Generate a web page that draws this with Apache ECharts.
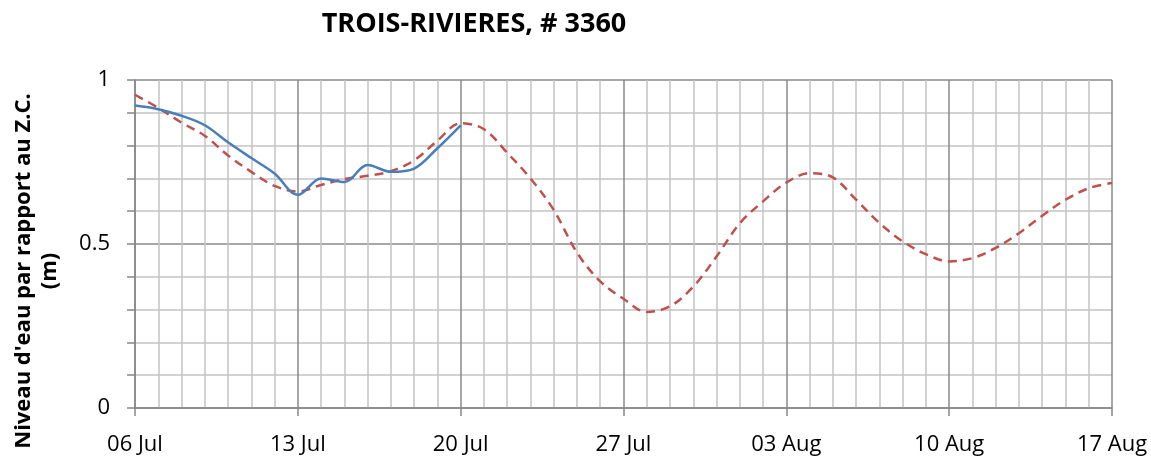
<!DOCTYPE html>
<html>
<head>
<meta charset="utf-8">
<script src="https://cdn.jsdelivr.net/npm/echarts@6/dist/echarts.min.js"></script>
<style>html,body{margin:0;padding:0;background:#fff;}#c{width:1151px;height:458px;}</style>
</head>
<body>
<div id="c"></div>
<script>
// Day offsets from 06 Jul
var days = [0,1,2,3,4,5,6,7,8,9,10,11,12,13,14,15,16,17,18,19,20,21,22,23,24,25,26,27,28,29,30,31,32,33,34,35,36,37,38,39,40,41,42];
var predicted = [0.955,0.915,0.87,0.83,0.77,0.72,0.677,0.66,0.68,0.698,0.708,0.722,0.755,0.815,0.868,0.85,0.778,0.70,0.604,0.474,0.386,0.333,0.293,0.31,0.37,0.462,0.563,0.63,0.687,0.716,0.703,0.635,0.564,0.508,0.469,0.447,0.457,0.488,0.533,0.586,0.635,0.67,0.686];
var observed = [0.922,0.911,0.891,0.862,0.81,0.762,0.715,0.65,0.70,0.689,0.741,0.72,0.73,0.792,0.862];
var xTickLabels = ['06 Jul','13 Jul','20 Jul','27 Jul','03 Aug','10 Aug','17 Aug'];
var yTickLabels = {0:'0', 0.5:'0.5', 1:'1'};
var title = 'TROIS-RIVIERES, # 3360';
var yName = "Niveau d'eau par rapport au Z.C.\n(m)";

var predData = days.map(function(d,i){return [d, predicted[i]];});
var obsData = observed.map(function(v,i){return [days[i], v];});

var chart = echarts.init(document.getElementById('c'));
var font = '"Open Sans", sans-serif';
chart.setOption({
  animation: false,
  backgroundColor: '#ffffff',
  grid: {left: 135, right: 39, top: 80, bottom: 50, containLabel: false},
  graphic: [
    {type:'text', x: 474, y: 24, style:{text: title, font: 'bold 27px ' + font, fill:'#000', align:'center', verticalAlign:'middle'}},
    {type:'text', x: 37, y: 271, rotation: Math.PI/2,
     style:{text: yName, font: 'bold 22px ' + font, fill:'#000', align:'center', verticalAlign:'middle', lineHeight: 26}}
  ],
  xAxis: {
    type: 'value', min: 0, max: 42, interval: 7,
    axisLine: {show: true, lineStyle: {color: '#868686', width: 1.5}},
    axisTick: {show: true, length: 8, lineStyle: {color: '#868686', width: 1.5}},
    axisLabel: {margin: 26, fontFamily: font, fontSize: 22, color: '#000',
      formatter: function(v){ return xTickLabels[Math.round(v/7)] || ''; }},
    splitLine: {show: true, lineStyle: {color: '#8a8a8a', width: 1.5}},
    minorTick: {show: false, splitNumber: 7},
    minorSplitLine: {show: true, lineStyle: {color: '#c4c4c4', width: 1.5}}
  },
  yAxis: {
    type: 'value', min: 0, max: 1, interval: 0.5,
    axisLine: {show: true, lineStyle: {color: '#868686', width: 1.5}},
    axisTick: {show: true, length: 8, lineStyle: {color: '#868686', width: 1.5}},
    minorTick: {show: true, splitNumber: 5, length: 8, lineStyle: {color: '#868686', width: 1.5}},
    axisLabel: {margin: 25, fontFamily: font, fontSize: 22, color: '#000',
      formatter: function(v){ return yTickLabels[v] !== undefined ? yTickLabels[v] : ''; }},
    splitLine: {show: true, lineStyle: {color: '#8a8a8a', width: 1.5}},
    minorSplitLine: {show: true, lineStyle: {color: '#c4c4c4', width: 1.5}}
  },
  series: [
    {name:'Prévision', type:'line', data: predData, smooth: 0.35, showSymbol:false, symbol:'none',
     lineStyle:{color:'#c0504d', width: 2.5, type:[9,6]}, z: 3},
    {name:'Observé', type:'line', data: obsData, smooth: 0.35, showSymbol:false, symbol:'none',
     lineStyle:{color:'#4a7ebb', width: 2.5}, z: 4}
  ]
});
</script>
</body>
</html>
